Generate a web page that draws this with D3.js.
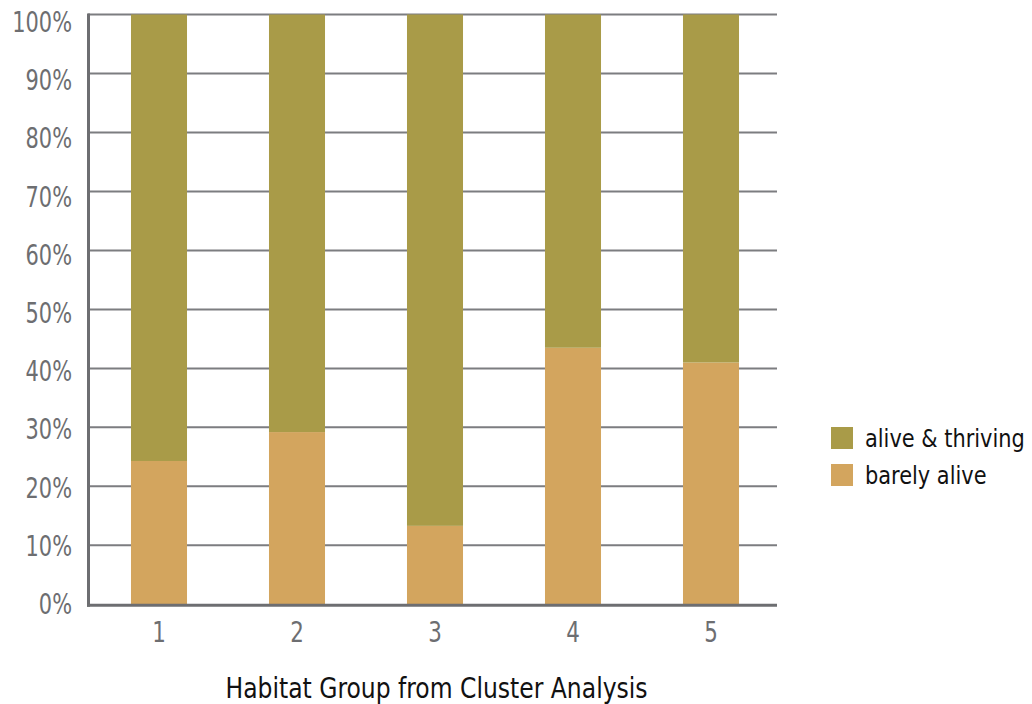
<!DOCTYPE html>
<html>
<head>
<meta charset="utf-8">
<script src="https://cdn.jsdelivr.net/npm/d3@7"></script>
<style>
  html, body { margin: 0; padding: 0; background: #fff; }
  svg { display: block; font-family: "DejaVu Sans Condensed", "DejaVu Sans", sans-serif; font-stretch: condensed; }
</style>
</head>
<body>
<svg id="chart" width="1032" height="704"></svg>
<script>
// Habitat groups and the share of plants in each condition (percent)
const groups = ["1", "2", "3", "4", "5"];
const barelyAlive = [24.3, 29.2, 13.3, 43.5, 41.0];
const aliveThriving = [75.7, 70.8, 86.7, 56.5, 59.0];
const seriesNames = ["alive & thriving", "barely alive"];
const seriesColors = ["#a99b48", "#d3a55e"];
const yTicks = [0, 10, 20, 30, 40, 50, 60, 70, 80, 90, 100];
const xTitle = "Habitat Group from Cluster Analysis";

const svg = d3.select("#chart");
const plotLeft = 90, plotRight = 780, plotTop = 14.5, plotBottom = 604.3;

const rows = groups.map((g, i) => ({ group: g, barely: barelyAlive[i], thriving: aliveThriving[i] }));
const stack = d3.stack().keys(["barely", "thriving"]);
const layers = stack(rows);

const x = d3.scaleBand().domain(groups).range([plotLeft, plotRight]).paddingInner(0.594).paddingOuter(0.297);
const y = d3.scaleLinear().domain([0, 100]).range([plotBottom, plotTop]);
// tick labels sit on a slightly tighter spacing than the grid
const yLabel = d3.scaleLinear().domain([0, 100]).range([604, 22]);

// narrow type: squeeze text horizontally around its anchor
const narrow = (sel, fx, fy, sx) =>
  sel.attr("transform", (d, i) => `translate(${fx(d, i)},${fy(d, i)}) scale(${sx},1)`);

// horizontal grid
svg.append("g")
  .selectAll("line")
  .data(yTicks.filter(t => t > 0))
  .join("line")
  .attr("x1", 88).attr("x2", 777)
  .attr("y1", d => y(d)).attr("y2", d => y(d))
  .attr("stroke", "#7c7d80").attr("stroke-width", 2);

// stacked bars
const colorByKey = { barely: seriesColors[1], thriving: seriesColors[0] };
svg.append("g")
  .selectAll("g")
  .data(layers)
  .join("g")
  .attr("fill", d => colorByKey[d.key])
  .selectAll("rect")
  .data(d => d)
  .join("rect")
  .attr("x", d => x(d.data.group))
  .attr("width", x.bandwidth())
  .attr("y", d => y(d[1]))
  .attr("height", d => y(d[0]) - y(d[1]));

// axis lines
svg.append("line").attr("x1", 88.5).attr("x2", 88.5).attr("y1", plotTop - 1).attr("y2", plotBottom + 2.5)
  .attr("stroke", "#6d6e71").attr("stroke-width", 3);
svg.append("line").attr("x1", 87).attr("x2", 777).attr("y1", plotBottom + 1).attr("y2", plotBottom + 1)
  .attr("stroke", "#6d6e71").attr("stroke-width", 3);

// y tick labels
svg.append("g")
  .selectAll("text")
  .data(yTicks)
  .join("text")
  .call(narrow, () => 72, d => yLabel(d), 0.83)
  .attr("dy", "0.36em")
  .attr("text-anchor", "end")
  .attr("font-size", 28)
  .attr("fill", "#6d6e71")
  .text(d => d + "%");

// x tick labels
svg.append("g")
  .selectAll("text")
  .data(groups)
  .join("text")
  .call(narrow, d => x(d) + x.bandwidth() / 2, () => 642, 0.85)
  .attr("text-anchor", "middle")
  .attr("font-size", 28)
  .attr("fill", "#6d6e71")
  .text(d => d);

// x axis title
svg.append("text")
  .datum(xTitle)
  .call(narrow, () => 436.5, () => 698, 0.9)
  .attr("text-anchor", "middle")
  .attr("font-size", 29)
  .attr("fill", "#111")
  .text(d => d);

// legend
const legend = svg.append("g").attr("transform", "translate(831,427)");
const item = legend.selectAll("g").data(seriesNames).join("g")
  .attr("transform", (d, i) => `translate(0,${i * 37})`);
item.append("rect").attr("width", 22).attr("height", 22).attr("fill", (d, i) => seriesColors[i]);
item.append("text")
  .call(narrow, () => 34, () => 11, 0.93)
  .attr("dy", "0.36em")
  .attr("font-size", 25).attr("fill", "#111").text(d => d);
</script>
</body>
</html>
